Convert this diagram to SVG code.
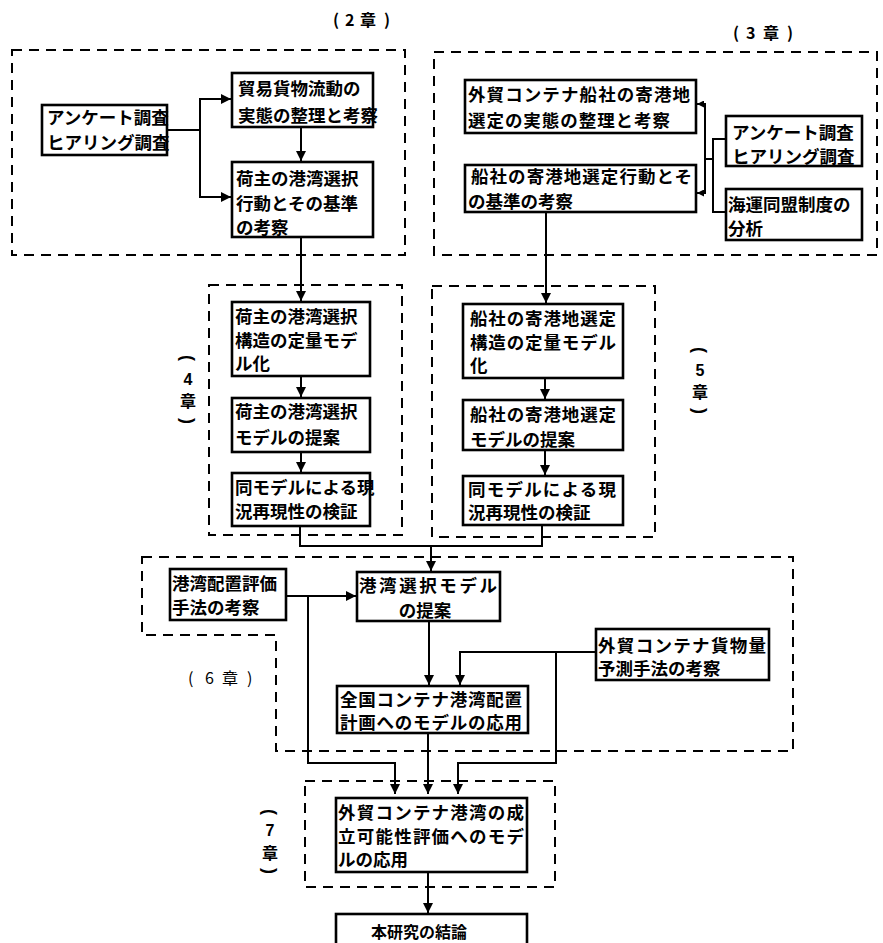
<svg xmlns="http://www.w3.org/2000/svg" width="883" height="943" viewBox="0 0 883 943">
<style>
.bg{fill:#fff}
.box{fill:#fff;stroke:#000;stroke-width:2.6}
.dash{fill:none;stroke:#000;stroke-width:2;stroke-dasharray:10 7}
.con{fill:none;stroke:#000;stroke-width:2}
.t{font-family:"Noto Sans CJK JP","Noto Sans CJK SC",sans-serif;font-size:17.5px;font-weight:bold;fill:#000}
.lbl{font-family:"Noto Sans CJK JP","Noto Sans CJK SC",sans-serif;font-size:16px;font-weight:bold;fill:#000}
.dg{font-family:"Liberation Sans","Noto Sans CJK JP",sans-serif;font-size:16px;font-weight:bold;fill:#000}
.par{font-family:"Liberation Sans",sans-serif;font-size:18px;font-weight:bold;fill:#000}
</style>
<defs>
<marker id="ah" viewBox="0 0 10 10" refX="10" refY="5" markerWidth="10" markerHeight="10" markerUnits="userSpaceOnUse" orient="auto">
<path d="M0,0 L10,5 L0,10 Z" fill="#000"/>
</marker>
<marker id="ahs" viewBox="0 0 10 10" refX="10" refY="5" markerWidth="7" markerHeight="7" markerUnits="userSpaceOnUse" orient="auto">
<path d="M0,0 L10,5 L0,10 Z" fill="#000"/>
</marker>
</defs>
<rect class="bg" x="0" y="0" width="883" height="943"/>

<g id="chapters">
<rect class="dash" x="12" y="50" width="393" height="205"/>
<rect class="dash" x="434" y="52" width="443" height="203"/>
<rect class="dash" x="209" y="285" width="193" height="250"/>
<rect class="dash" x="432" y="286" width="223" height="251"/>
<path class="dash" d="M142,557 H793 V751 H276 V635 H142 Z"/>
<rect class="dash" x="305" y="781" width="250" height="106"/>
<text class="lbl" x="333 345 360 384" y="26">(2章)</text>
<text class="lbl" x="733 746 763 787" y="39">(3章)</text>
<text class="lbl" x="188 205 222 247" y="684" style="font-weight:normal">(6章)</text>
<g text-anchor="middle">
<text class="par" x="188" y="358" dominant-baseline="central" transform="rotate(90 188 358)">(</text>
<text class="dg" x="188" y="385">4</text>
<text class="lbl" x="188" y="407">章</text>
<text class="par" x="188" y="421" dominant-baseline="central" transform="rotate(90 188 421)">)</text>
<text class="par" x="700" y="350" dominant-baseline="central" transform="rotate(90 700 350)">(</text>
<text class="dg" x="700" y="376">5</text>
<text class="lbl" x="700" y="398">章</text>
<text class="par" x="700" y="411" dominant-baseline="central" transform="rotate(90 700 411)">)</text>
<text class="par" x="270" y="812" dominant-baseline="central" transform="rotate(90 270 812)">(</text>
<text class="dg" x="270" y="836">7</text>
<text class="lbl" x="270" y="859">章</text>
<text class="par" x="270" y="871" dominant-baseline="central" transform="rotate(90 270 871)">)</text>
</g>
</g>

<g id="connectors">
<path class="con" d="M167,130 H200 V99 H231" marker-end="url(#ah)"/>
<path class="con" d="M200,130 V197 H231" marker-end="url(#ah)"/>
<path class="con" d="M301,127 V161" marker-end="url(#ah)"/>
<path class="con" d="M301,237 V301" marker-end="url(#ah)"/>
<path class="con" d="M726,139 H713 V212 H726 M713,159 H705"/>
<path class="con" d="M705,159 V104 H697" marker-end="url(#ahs)"/>
<path class="con" d="M705,159 V193 H697" marker-end="url(#ahs)"/>
<path class="con" d="M546,212 V303" marker-end="url(#ah)"/>
<path class="con" d="M301,376 V397" marker-end="url(#ah)"/>
<path class="con" d="M301,452 V472" marker-end="url(#ah)"/>
<path class="con" d="M545,378 V399" marker-end="url(#ah)"/>
<path class="con" d="M545,450 V475" marker-end="url(#ah)"/>
<path class="con" d="M300,526 V546 H542 V525"/>
<path class="con" d="M431,546 V571" marker-end="url(#ah)"/>
<path class="con" d="M286,596 H356" marker-end="url(#ah)"/>
<path class="con" d="M308,596 V763 H395 V794" marker-end="url(#ah)"/>
<path class="con" d="M429,621 V685" marker-end="url(#ah)"/>
<path class="con" d="M596,652 H460 V685" marker-end="url(#ah)"/>
<path class="con" d="M556,652 V763 H458 V794" marker-end="url(#ah)"/>
<path class="con" d="M428,733 V794" marker-end="url(#ah)"/>
<path class="con" d="M428,872 V913" marker-end="url(#ah)"/>
</g>

<g id="n_survey1">
<rect class="box" x="42" y="105" width="125" height="50"/>
<text class="t" x="47" y="124">アンケート調査</text>
<text class="t" x="47" y="149">ヒアリング調査</text>
</g>
<g id="n_trade">
<rect class="box" x="232" y="73" width="141" height="54"/>
<text class="t" x="238" y="95">貿易貨物流動の</text>
<text class="t" x="238" y="122">実態の整理と考察</text>
</g>
<g id="n_shipper_behavior">
<rect class="box" x="232" y="162" width="141" height="75"/>
<text class="t" x="236" y="185">荷主の港湾選択</text>
<text class="t" x="236" y="210">行動とその基準</text>
<text class="t" x="236" y="234">の考察</text>
</g>
<g id="n_carrier_actual">
<rect class="box" x="465" y="80" width="231" height="53"/>
<text class="t" x="468" y="101" textLength="222">外貿コンテナ船社の寄港地</text>
<text class="t" x="468" y="127" textLength="202">選定の実態の整理と考察</text>
</g>
<g id="n_carrier_behavior">
<rect class="box" x="465" y="165" width="231" height="47"/>
<text class="t" x="471" y="183" textLength="221">船社の寄港地選定行動とそ</text>
<text class="t" x="468" y="208">の基準の考察</text>
</g>
<g id="n_survey2">
<rect class="box" x="726" y="116" width="136" height="50"/>
<text class="t" x="732" y="139">アンケート調査</text>
<text class="t" x="732" y="163">ヒアリング調査</text>
</g>
<g id="n_conference">
<rect class="box" x="726" y="189" width="136" height="51"/>
<text class="t" x="728" y="211">海運同盟制度の</text>
<text class="t" x="728" y="235">分析</text>
</g>
<g id="n_shipper_quant">
<rect class="box" x="232" y="302" width="138" height="74"/>
<text class="t" x="235" y="323">荷主の港湾選択</text>
<text class="t" x="235" y="347">構造の定量モデ</text>
<text class="t" x="235" y="370">ル化</text>
</g>
<g id="n_shipper_model">
<rect class="box" x="232" y="398" width="138" height="54"/>
<text class="t" x="235" y="418">荷主の港湾選択</text>
<text class="t" x="235" y="444">モデルの提案</text>
</g>
<g id="n_shipper_verify">
<rect class="box" x="232" y="473" width="138" height="53"/>
<text class="t" x="235" y="494">同モデルによる現</text>
<text class="t" x="235" y="518">況再現性の検証</text>
</g>
<g id="n_carrier_quant">
<rect class="box" x="463" y="304" width="160" height="74"/>
<text class="t" x="470" y="325" textLength="146">船社の寄港地選定</text>
<text class="t" x="470" y="349" textLength="146">構造の定量モデル</text>
<text class="t" x="470" y="372">化</text>
</g>
<g id="n_carrier_model">
<rect class="box" x="463" y="400" width="160" height="50"/>
<text class="t" x="470" y="421" textLength="146">船社の寄港地選定</text>
<text class="t" x="470" y="446">モデルの提案</text>
</g>
<g id="n_carrier_verify">
<rect class="box" x="463" y="476" width="160" height="49"/>
<text class="t" x="468" y="496" textLength="148">同モデルによる現</text>
<text class="t" x="468" y="519">況再現性の検証</text>
</g>
<g id="n_layout_eval">
<rect class="box" x="170" y="569" width="116" height="51"/>
<text class="t" x="172" y="590">港湾配置評価</text>
<text class="t" x="172" y="614">手法の考察</text>
</g>
<g id="n_port_choice">
<rect class="box" x="357" y="572" width="143" height="49"/>
<text class="t" x="359" y="592" textLength="138">港湾選択モデル</text>
<text class="t" x="425" y="617" text-anchor="middle">の提案</text>
</g>
<g id="n_national">
<rect class="box" x="337" y="686" width="191" height="47"/>
<text class="t" x="340" y="706" textLength="182">全国コンテナ港湾配置</text>
<text class="t" x="340" y="729" textLength="182">計画へのモデルの応用</text>
</g>
<g id="n_forecast">
<rect class="box" x="596" y="629" width="173" height="51"/>
<text class="t" x="598" y="652" textLength="168">外貿コンテナ貨物量</text>
<text class="t" x="598" y="675">予測手法の考察</text>
</g>
<g id="n_feasibility">
<rect class="box" x="336" y="798" width="191" height="74"/>
<text class="t" x="338" y="819" textLength="186">外貿コンテナ港湾の成</text>
<text class="t" x="338" y="843" textLength="186">立可能性評価へのモデ</text>
<text class="t" x="338" y="866">ルの応用</text>
</g>
<g id="n_conclusion">
<rect class="box" x="336" y="914" width="191" height="40"/>
<text class="t" x="419" y="938" text-anchor="middle" style="font-size:16px">本研究の結論</text>
</g>
</svg>
